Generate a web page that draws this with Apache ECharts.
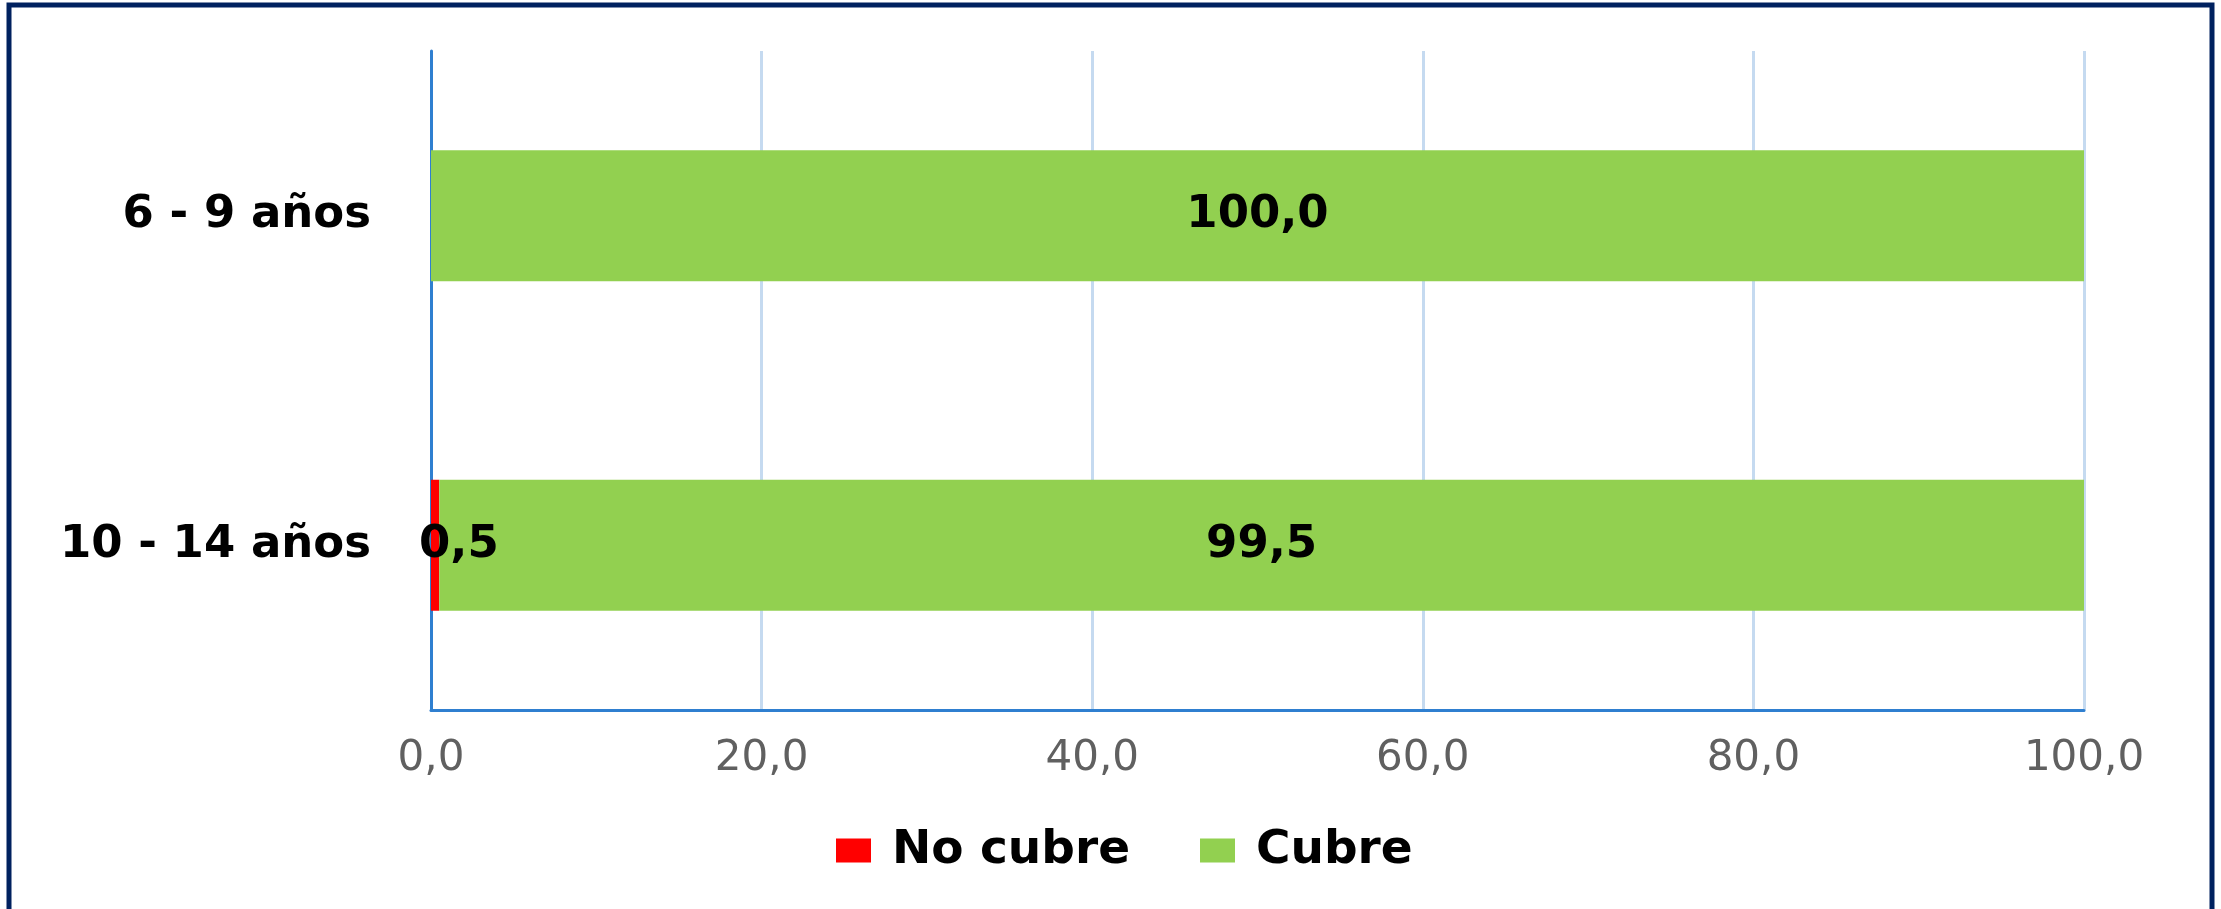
<!DOCTYPE html>
<html>
<head>
<meta charset="utf-8">
<script src="https://cdn.jsdelivr.net/npm/echarts@6/dist/echarts.min.js"></script>
<style>
  html, body { margin: 0; padding: 0; background: #fff; }
  #main { width: 2221px; height: 909px; }
</style>
</head>
<body>
<div id="main"></div>
<script>
// datos del grafico
var grupos = ['6 - 9 años', '10 - 14 años'];
var noCubre = [0, 0.5];
var cubre = [100, 99.5];
var ticks = [0, 20, 40, 60, 80, 100];

function coma(v) {
  return Number(v).toFixed(1).replace('.', ',');
}

var myChart = echarts.init(document.getElementById('main'));
var option = {
  animation: false,
  textStyle: { fontFamily: 'DejaVu Sans' },
  graphic: [{
    type: 'rect',
    shape: { x: 9, y: 5, width: 2203, height: 940 },
    style: { fill: 'none', stroke: '#00215f', lineWidth: 5 }
  }],
  legend: {
    data: ['No cubre', 'Cubre'],
    left: 831,
    top: 822,
    itemWidth: 35,
    itemHeight: 24,
    itemGap: 70,
    icon: 'rect',
    textStyle: {
      fontFamily: 'DejaVu Sans',
      fontSize: 47,
      fontWeight: 'bold',
      color: '#000',
      padding: [0, 0, 0, 16]
    }
  },
  grid: { left: 431, right: 137, top: 51, bottom: 199 },
  xAxis: {
    type: 'value',
    min: ticks[0],
    max: ticks[ticks.length - 1],
    interval: 20,
    axisLine: { show: true, lineStyle: { color: '#2f7fd0', width: 3 } },
    axisTick: { show: false },
    splitLine: { show: true, lineStyle: { color: '#c5daf0', width: 3 } },
    axisLabel: {
      formatter: coma,
      color: '#606060',
      fontSize: 42,
      margin: 28
    }
  },
  yAxis: {
    type: 'category',
    data: grupos,
    inverse: true,
    axisLine: { show: true, lineStyle: { color: '#2f7fd0', width: 3 } },
    axisTick: { show: false },
    axisLabel: {
      color: '#000',
      fontSize: 45,
      fontWeight: 'bold',
      margin: 60
    }
  },
  series: [
    {
      name: 'No cubre',
      type: 'bar',
      stack: 'total',
      data: noCubre,
      barWidth: 131,
      itemStyle: { color: '#ff0000' },
      label: {
        show: true,
        position: 'insideLeft',
        distance: 0,
        offset: [-12, 0],
        color: '#000',
        fontSize: 45,
        fontWeight: 'bold',
        formatter: function (p) { return p.value ? coma(p.value) : ''; }
      }
    },
    {
      name: 'Cubre',
      type: 'bar',
      stack: 'total',
      data: cubre,
      barWidth: 131,
      itemStyle: { color: '#92d050' },
      label: {
        show: true,
        position: 'inside',
        color: '#000',
        fontSize: 45,
        fontWeight: 'bold',
        formatter: function (p) { return coma(p.value); }
      }
    }
  ]
};
myChart.setOption(option);
</script>
</body>
</html>
